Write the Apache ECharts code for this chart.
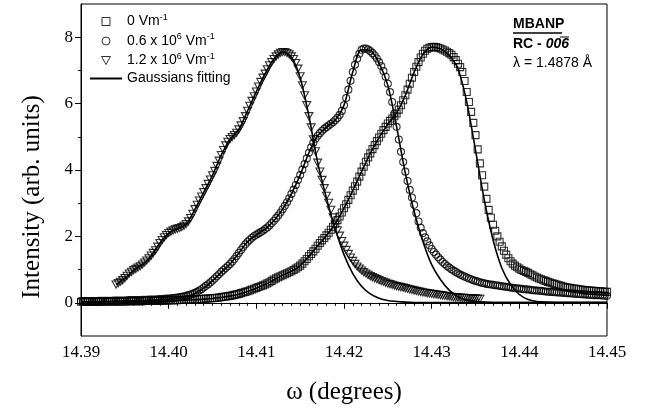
<!DOCTYPE html>
<html>
<head>
<meta charset="utf-8">
<script src="https://cdn.jsdelivr.net/npm/echarts@6.0.0/dist/echarts.min.js"></script>
<style>
  html, body { margin: 0; padding: 0; background: #fff; }
  #chart { width: 645px; height: 416px; }
</style>
</head>
<body>
<div id="chart"></div>
<script>
// scan grid of the measured points (degrees)
const omegaStart = 14.390
const omegaStep = 0.00025
const triStart = 14.394
// grid of the fitted curves
const fitStep = 0.001

const xTicks = [14.39, 14.40, 14.41, 14.42, 14.43, 14.44, 14.45]
const yTicks = [0, 2, 4, 6, 8]
const yMinorTicks = [1, 3, 5, 7]

// 0 Vm-1 (squares)
const squareVals = [
  0.03, 0.03, 0.03, 0.03, 0.03, 0.03, 0.03, 0.03, 0.03, 0.035, 0.04, 0.04, 0.04, 0.04, 0.04, 0.04, 0.04, 0.04, 0.04, 0.04,
  0.04, 0.045, 0.05, 0.05, 0.05, 0.05, 0.05, 0.05, 0.05, 0.055, 0.06, 0.06, 0.06, 0.06, 0.06, 0.06, 0.06, 0.065, 0.07, 0.07,
  0.07, 0.075, 0.08, 0.08, 0.08, 0.085, 0.09, 0.09, 0.09, 0.095, 0.10, 0.10, 0.10, 0.105, 0.11, 0.115, 0.12, 0.125, 0.13, 0.135,
  0.14, 0.145, 0.15, 0.16, 0.17, 0.18, 0.19, 0.20, 0.21, 0.225, 0.24, 0.255, 0.27, 0.29, 0.31, 0.33, 0.35, 0.375, 0.40, 0.425,
  0.45, 0.475, 0.50, 0.525, 0.55, 0.585, 0.62, 0.66, 0.70, 0.735, 0.77, 0.80, 0.83, 0.86, 0.89, 0.92, 0.95, 0.99, 1.03, 1.07,
  1.12, 1.18, 1.25, 1.32, 1.40, 1.47, 1.55, 1.63, 1.72, 1.80, 1.88, 1.95, 2.03, 2.11, 2.20, 2.29, 2.38, 2.49, 2.60, 2.72,
  2.85, 2.97, 3.10, 3.24, 3.38, 3.51, 3.65, 3.80, 3.95, 4.10, 4.25, 4.38, 4.50, 4.63, 4.75, 4.87, 4.98, 5.09, 5.20, 5.30,
  5.40, 5.48, 5.55, 5.62, 5.70, 5.82, 5.95, 6.10, 6.25, 6.42, 6.60, 6.78, 6.95, 7.11, 7.25, 7.39, 7.50, 7.59, 7.65, 7.68,
  7.70, 7.71, 7.70, 7.68, 7.66, 7.63, 7.60, 7.56, 7.52, 7.47, 7.40, 7.31, 7.20, 7.10, 6.95, 6.68, 6.35, 6.05, 5.75, 5.42,
  5.05, 4.62, 4.20, 3.84, 3.50, 3.13, 2.80, 2.56, 2.35, 2.17, 2.00, 1.84, 1.70, 1.57, 1.45, 1.34, 1.25, 1.18, 1.12, 1.07,
  1.03, 0.99, 0.96, 0.93, 0.90, 0.86, 0.83, 0.79, 0.76, 0.73, 0.71, 0.68, 0.66, 0.63, 0.61, 0.59, 0.57, 0.55, 0.53, 0.51,
  0.49, 0.47, 0.46, 0.45, 0.44, 0.43, 0.42, 0.41, 0.40, 0.39, 0.38, 0.375, 0.37, 0.365, 0.36, 0.355, 0.35, 0.345, 0.34, 0.335,
  0.33
]
// 0.6 x 10^6 Vm-1 (circles)
const circleVals = [
  0.05, 0.05, 0.05, 0.05, 0.05, 0.05, 0.05, 0.055, 0.06, 0.06, 0.06, 0.06, 0.06, 0.06, 0.06, 0.065, 0.07, 0.07, 0.07, 0.07,
  0.07, 0.075, 0.08, 0.08, 0.08, 0.08, 0.08, 0.085, 0.09, 0.09, 0.09, 0.095, 0.10, 0.10, 0.10, 0.105, 0.11, 0.115, 0.12, 0.125,
  0.13, 0.135, 0.14, 0.15, 0.16, 0.17, 0.18, 0.195, 0.21, 0.23, 0.25, 0.27, 0.30, 0.33, 0.37, 0.41, 0.46, 0.51, 0.56, 0.61,
  0.67, 0.73, 0.80, 0.86, 0.93, 0.99, 1.05, 1.11, 1.17, 1.24, 1.32, 1.41, 1.50, 1.59, 1.68, 1.76, 1.84, 1.90, 1.96, 2.01,
  2.05, 2.09, 2.13, 2.17, 2.22, 2.27, 2.33, 2.40, 2.47, 2.55, 2.63, 2.72, 2.82, 2.92, 3.03, 3.15, 3.28, 3.41, 3.55, 3.70,
  3.85, 4.01, 4.18, 4.35, 4.52, 4.68, 4.82, 4.94, 5.03, 5.11, 5.18, 5.24, 5.29, 5.34, 5.39, 5.44, 5.50, 5.57, 5.66, 5.78,
  5.95, 6.17, 6.42, 6.69, 6.95, 7.17, 7.35, 7.50, 7.62, 7.66, 7.66, 7.63, 7.58, 7.52, 7.45, 7.36, 7.25, 7.13, 6.98, 6.81,
  6.60, 6.35, 6.05, 5.70, 5.30, 4.92, 4.55, 4.24, 3.95, 3.67, 3.40, 3.17, 2.95, 2.70, 2.45, 2.26, 2.10, 1.97, 1.85, 1.73,
  1.62, 1.53, 1.45, 1.37, 1.30, 1.23, 1.17, 1.11, 1.06, 1.01, 0.97, 0.93, 0.89, 0.85, 0.82, 0.79, 0.76, 0.73, 0.71, 0.68,
  0.66, 0.64, 0.62, 0.60, 0.59, 0.57, 0.56, 0.55, 0.54, 0.53, 0.52, 0.51, 0.50, 0.49, 0.48, 0.47, 0.46, 0.45, 0.44, 0.435,
  0.43, 0.42, 0.41, 0.405, 0.40, 0.39, 0.38, 0.375, 0.37, 0.365, 0.36, 0.35, 0.34, 0.335, 0.33, 0.325, 0.32, 0.315, 0.31, 0.305,
  0.30, 0.295, 0.29, 0.285, 0.28, 0.275, 0.27, 0.265, 0.26, 0.255, 0.25, 0.245, 0.24, 0.235, 0.23, 0.23, 0.23, 0.225, 0.22, 0.215,
  0.21
]
// 1.2 x 10^6 Vm-1 (triangles), starts at triStart
const triVals = [
  0.55, 0.59, 0.63, 0.68, 0.74, 0.81, 0.88, 0.93, 0.98, 1.02, 1.06, 1.10, 1.15, 1.21, 1.27, 1.34, 1.42, 1.50, 1.58, 1.69,
  1.80, 1.89, 1.97, 2.04, 2.10, 2.14, 2.18, 2.21, 2.23, 2.25, 2.28, 2.32, 2.37, 2.45, 2.55, 2.68, 2.82, 2.95, 3.08, 3.20,
  3.33, 3.45, 3.58, 3.71, 3.84, 3.97, 4.12, 4.28, 4.45, 4.60, 4.74, 4.85, 4.93, 4.99, 5.05, 5.12, 5.22, 5.34, 5.47, 5.62,
  5.78, 5.93, 6.08, 6.22, 6.36, 6.51, 6.65, 6.78, 6.90, 7.03, 7.15, 7.25, 7.34, 7.42, 7.48, 7.53, 7.55, 7.55, 7.52, 7.48,
  7.42, 7.34, 7.22, 7.05, 6.82, 6.55, 6.25, 5.95, 5.62, 5.28, 4.92, 4.56, 4.22, 3.95, 3.70, 3.45, 3.22, 3.01, 2.80, 2.57,
  2.35, 2.18, 2.02, 1.86, 1.72, 1.59, 1.47, 1.36, 1.26, 1.17, 1.09, 1.03, 0.97, 0.92, 0.88, 0.84, 0.80, 0.77, 0.74, 0.71,
  0.68, 0.655, 0.63, 0.605, 0.58, 0.56, 0.54, 0.52, 0.50, 0.485, 0.47, 0.455, 0.44, 0.42, 0.40, 0.385, 0.37, 0.355, 0.34, 0.325,
  0.31, 0.30, 0.29, 0.28, 0.27, 0.26, 0.25, 0.24, 0.23, 0.22, 0.21, 0.20, 0.19, 0.18, 0.17, 0.165, 0.16, 0.155, 0.15, 0.145,
  0.14, 0.135, 0.13, 0.13, 0.13, 0.125, 0.12
]

// Gaussian fits
const squareFit = [
  0.02, 0.02, 0.02, 0.03, 0.03, 0.03, 0.04, 0.04, 0.05, 0.05,
  0.06, 0.07, 0.08, 0.09, 0.11, 0.13, 0.16, 0.20, 0.26, 0.34,
  0.44, 0.55, 0.69, 0.83, 0.95, 1.12, 1.40, 1.72, 2.03, 2.38,
  2.85, 3.38, 3.95, 4.50, 4.98, 5.38, 5.72, 6.25, 6.95, 7.48,
  7.70, 7.65, 7.45, 7.05, 6.05, 4.60, 3.10, 1.90, 1.05, 0.55,
  0.25, 0.10, 0.04, 0.02, 0.01, 0.01, 0.01, 0.01, 0.01, 0.01,
  0.01
]
const circleFit = [
  0.03, 0.03, 0.04, 0.04, 0.05, 0.05, 0.06, 0.07, 0.08, 0.09,
  0.11, 0.14, 0.19, 0.28, 0.44, 0.66, 0.92, 1.17, 1.50, 1.84,
  2.05, 2.22, 2.47, 2.82, 3.28, 3.85, 4.52, 5.03, 5.29, 5.50,
  5.95, 6.95, 7.62, 7.60, 7.22, 6.55, 5.30, 3.90, 2.75, 1.85,
  1.15, 0.70, 0.38, 0.18, 0.08, 0.04, 0.02, 0.01, 0.01, 0.01,
  0.01, 0.01, 0.01, 0.01, 0.01, 0.01, 0.01, 0.01, 0.01, 0.01,
  0.01
]
const triFit = [
  0.55, 0.74, 0.98, 1.15, 1.42, 1.80, 2.10, 2.23, 2.37, 2.82,
  3.33, 3.84, 4.45, 4.93, 5.22, 5.78, 6.36, 6.90, 7.34, 7.55,
  7.40, 6.78, 5.62, 4.22, 3.15, 2.22, 1.45, 0.88, 0.50, 0.27,
  0.14, 0.07, 0.04, 0.02, 0.01, 0.01, 0.01, 0.01, 0.01, 0.01,
  0.01, 0.01, 0.01, 0.01, 0.01, 0.01, 0.01, 0.01, 0.01, 0.01,
  0.01, 0.01, 0.01, 0.01, 0.01, 0.01, 0.01
]

const nameSq = '0 Vm-1'
const nameCi = '0.6 x 106 Vm-1'
const nameTr = '1.2 x 106 Vm-1'
const nameFit = 'Gaussians fitting'

const legendText = {}
legendText[nameSq] = '{t|0 Vm}{s|-1}'
legendText[nameCi] = '{t|0.6 x 10}{s|6}{t| Vm}{s|-1}'
legendText[nameTr] = '{t|1.2 x 10}{s|6}{t| Vm}{s|-1}'
legendText[nameFit] = '{t|Gaussians fitting}'

const triPath = 'path://M0,0L10,0L5,9Z'
const sqPath = 'path://M0,0H10V10H0Z'

function toPairs(start, step, vals) {
  return vals.map((v, i) => [+(start + step * i).toFixed(5), v])
}

const hollow = { color: 'rgba(255,255,255,0)', borderColor: '#000', borderWidth: 1.1 }
const legendHollow = { color: 'rgba(255,255,255,0)', borderColor: '#000', borderWidth: 1 }
const serif = 'Liberation Serif'
const sans = 'Liberation Sans'

const chart = echarts.init(document.getElementById('chart'))

let option = {
  animation: false,
  backgroundColor: '#fff',
  grid: {
    left: 81, top: 4, width: 526, height: 332,
    show: true, borderColor: '#000', borderWidth: 1, backgroundColor: 'transparent'
  },
  legend: {
    left: 84, top: 8, orient: 'vertical',
    itemWidth: 32, itemHeight: 8, itemGap: 4,
    selectedMode: false,
    data: [
      { name: nameSq, icon: sqPath, itemStyle: legendHollow },
      { name: nameCi, icon: 'circle', itemStyle: legendHollow },
      { name: nameTr, icon: triPath, itemStyle: legendHollow },
      { name: nameFit, itemStyle: { color: 'rgba(0,0,0,0)', borderColor: 'rgba(0,0,0,0)', borderWidth: 0 } }
    ],
    formatter: (n) => legendText[n],
    textStyle: {
      color: '#000', fontFamily: sans, fontSize: 14,
      rich: {
        t: { fontFamily: sans, fontSize: 14, color: '#000', lineHeight: 17 },
        s: { fontFamily: sans, fontSize: 9, color: '#000', lineHeight: 9, verticalAlign: 'top' }
      }
    }
  },
  xAxis: {
    type: 'value', min: 14.39, max: 14.45, interval: 0.01,
    name: 'ω (degrees)', nameLocation: 'middle', nameGap: 44,
    nameTextStyle: { fontFamily: serif, fontSize: 25, color: '#000' },
    axisLine: { lineStyle: { color: '#000', width: 1 } },
    axisTick: { inside: false, length: 6, lineStyle: { color: '#000' } },
    minorTick: { show: true, splitNumber: 10, length: 3, lineStyle: { color: '#000' } },
    axisLabel: {
      margin: 8, fontFamily: serif, fontSize: 17, color: '#000',
      formatter: (v) => v.toFixed(2)
    },
    splitLine: { show: false }
  },
  yAxis: [{
    type: 'value', min: -1, max: 9,
    name: 'Intensity (arb. units)', nameLocation: 'middle', nameGap: 36,
    nameTextStyle: { fontFamily: serif, fontSize: 25, color: '#000', padding: [0, 54, 0, 0] },
    axisLine: { show: true, lineStyle: { color: '#000', width: 1 } },
    axisTick: { show: true, inside: false, length: 6, customValues: yTicks, lineStyle: { color: '#000' } },
    axisLabel: { margin: 8, fontFamily: serif, fontSize: 17, color: '#000', customValues: yTicks },
    splitLine: { show: false }
  }, {
    type: 'value', min: -1, max: 9, position: 'left',
    axisLine: { show: false },
    axisTick: { show: true, inside: false, length: 3, customValues: yMinorTicks, lineStyle: { color: '#000' } },
    axisLabel: { show: false },
    splitLine: { show: false }
  }],
  graphic: [
    { type: 'text', left: 513, top: 17,
      style: { text: 'MBANP', font: 'bold 14px "Liberation Sans"', fill: '#000' } },
    { type: 'line', shape: { x1: 513, y1: 33, x2: 562, y2: 33 }, style: { stroke: '#000', lineWidth: 1.3 } },
    { type: 'text', left: 513, top: 37,
      style: {
        text: '{b|RC - }{bi|006}',
        rich: {
          b: { font: 'bold 14px "Liberation Sans"', fill: '#000' },
          bi: { font: 'italic bold 14px "Liberation Sans"', fill: '#000' }
        }
      } },
    { type: 'line', shape: { x1: 560, y1: 37, x2: 569, y2: 37 }, style: { stroke: '#000', lineWidth: 1 } },
    { type: 'text', left: 513, top: 56,
      style: { text: 'λ = 1.4878 Å', font: '14px "Liberation Sans"', fill: '#000' } }
  ],
  series: [
    { name: nameSq, type: 'scatter', symbol: 'rect', symbolSize: 7, itemStyle: hollow,
      data: toPairs(omegaStart, omegaStep, squareVals), z: 2 },
    { name: nameCi, type: 'scatter', symbol: 'circle', symbolSize: 7, itemStyle: hollow,
      data: toPairs(omegaStart, omegaStep, circleVals), z: 2 },
    { name: nameTr, type: 'scatter', symbol: triPath, symbolKeepAspect: true, symbolSize: 8, itemStyle: hollow,
      data: toPairs(triStart, omegaStep, triVals), z: 2 },
    { name: nameFit, type: 'line', showSymbol: false, symbol: 'none', smooth: 0.3,
      lineStyle: { color: '#000', width: 1.6 }, itemStyle: { color: '#000' },
      data: toPairs(omegaStart, fitStep, squareFit), z: 3 },
    { name: nameFit, type: 'line', showSymbol: false, symbol: 'none', smooth: 0.3,
      lineStyle: { color: '#000', width: 1.6 }, itemStyle: { color: '#000' },
      data: toPairs(omegaStart, fitStep, circleFit), z: 3 },
    { name: nameFit, type: 'line', showSymbol: false, symbol: 'none', smooth: 0.3,
      lineStyle: { color: '#000', width: 1.6 }, itemStyle: { color: '#000' },
      data: toPairs(triStart, fitStep, triFit), z: 3 }
  ]
}
chart.setOption(option)
</script>
</body>
</html>
